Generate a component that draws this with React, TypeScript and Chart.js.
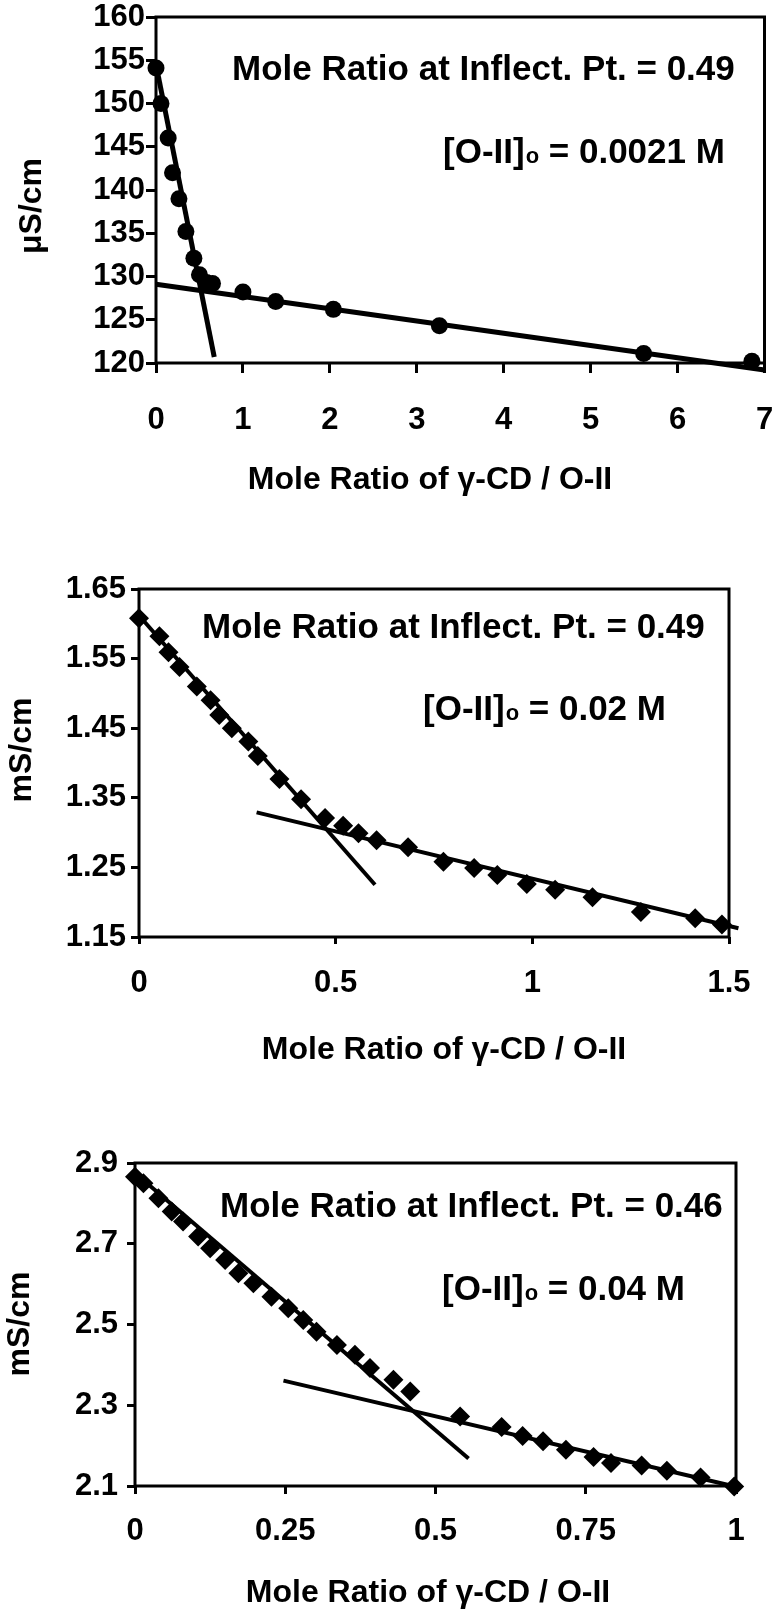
import React, { useEffect, useRef } from "react";
import { Chart, registerables } from "chart.js";

Chart.register(...registerables);

const FONT = "'Liberation Sans', Arial, Helvetica, sans-serif";
const W = 773;

// ---------- Panel 1 data (µS/cm, [O-II]o = 0.0021 M) ----------
const P1_X = [0, 0.057, 0.14, 0.19, 0.264, 0.344, 0.436, 0.5, 0.58, 0.65, 1.0, 1.377, 2.04, 3.26, 5.61, 6.855];
const P1_Y = [154.1, 150, 146, 142, 139, 135.2, 132.1, 130.2, 129.3, 129.2, 128.2, 127.1, 126.2, 124.3, 121.1, 120.2];
const P1_STEEP_X = [0, 0.67];
const P1_STEEP_Y = [154.5, 120.7];
const P1_FLAT_X = [0, 7];
const P1_FLAT_Y = [129.1, 119.2];
const P1_X_TICKS = [0, 1, 2, 3, 4, 5, 6, 7];
const P1_Y_TICKS = [120, 125, 130, 135, 140, 145, 150, 155, 160];
const P1_INFLECT = "Mole Ratio at Inflect. Pt. = 0.49";
const P1_CONC = "0.0021 M";
const P1_Y_TITLE = "μS/cm";

// ---------- Panel 2 data (mS/cm, [O-II]o = 0.02 M) ----------
const P2_X = [0, 0.052, 0.075, 0.103, 0.147, 0.182, 0.204, 0.236, 0.278, 0.302, 0.357, 0.412, 0.473, 0.519, 0.558, 0.604, 0.684, 0.774, 0.852, 0.911, 0.986, 1.058, 1.153, 1.276, 1.414, 1.482];
const P2_Y = [1.608, 1.582, 1.559, 1.538, 1.51, 1.49, 1.469, 1.45, 1.431, 1.41, 1.377, 1.348, 1.321, 1.31, 1.299, 1.289, 1.279, 1.258, 1.249, 1.239, 1.226, 1.218, 1.207, 1.186, 1.177, 1.168];
const P2_STEEP_X = [0, 0.6];
const P2_STEEP_Y = [1.612, 1.225];
const P2_FLAT_X = [0.299, 1.524];
const P2_FLAT_Y = [1.329, 1.1625];
const P2_X_TICKS = [0, 0.5, 1, 1.5];
const P2_Y_TICKS = [1.15, 1.25, 1.35, 1.45, 1.55, 1.65];
const P2_INFLECT = "Mole Ratio at Inflect. Pt. = 0.49";
const P2_CONC = "0.02 M";
const P2_Y_TITLE = "mS/cm";

// ---------- Panel 3 data (mS/cm, [O-II]o = 0.04 M) ----------
const P3_X = [0, 0.014, 0.039, 0.061, 0.08, 0.105, 0.125, 0.15, 0.172, 0.197, 0.227, 0.255, 0.28, 0.302, 0.336, 0.366, 0.391, 0.43, 0.458, 0.541, 0.61, 0.645, 0.679, 0.717, 0.763, 0.792, 0.843, 0.885, 0.941, 0.997];
const P3_Y = [2.866, 2.85, 2.813, 2.78, 2.755, 2.718, 2.689, 2.66, 2.627, 2.602, 2.569, 2.54, 2.511, 2.482, 2.449, 2.425, 2.392, 2.363, 2.334, 2.272, 2.246, 2.224, 2.211, 2.19, 2.172, 2.157, 2.151, 2.138, 2.121, 2.099];
const P3_STEEP_X = [0, 0.555];
const P3_STEEP_Y = [2.875, 2.168];
const P3_FLAT_X = [0.247, 1.0];
const P3_FLAT_Y = [2.361, 2.098];
const P3_X_TICKS = [0, 0.25, 0.5, 0.75, 1];
const P3_Y_TICKS = [2.1, 2.3, 2.5, 2.7, 2.9];
const P3_INFLECT = "Mole Ratio at Inflect. Pt. = 0.46";
const P3_CONC = "0.04 M";
const P3_Y_TITLE = "mS/cm";

const X_TITLE = "Mole Ratio of γ-CD / O-II";

const toPts = (xs: number[], ys: number[]) => xs.map((x, i) => ({ x, y: ys[i] }));

const decorPlugin = {
  id: "decor",
  beforeDatasetsDraw(chart: any, _args: any, o: any) {
    const { ctx, chartArea: a } = chart;
    ctx.save();
    ctx.strokeStyle = "#000";
    ctx.lineWidth = o.frameWidth;
    ctx.strokeRect(a.left, a.top, a.right - a.left, a.bottom - a.top);
    ctx.restore();
  },
  afterDraw(chart: any, _args: any, o: any) {
    const { ctx } = chart;
    ctx.save();
    ctx.fillStyle = "#000";
    ctx.textBaseline = "alphabetic";
    ctx.textAlign = "left";
    ctx.font = `bold ${o.annSize}px ${FONT}`;
    ctx.fillText(o.inflect, o.ann1[0], o.ann1[1]);
    let cx = o.ann2[0];
    const by = o.ann2[1];
    ctx.font = `bold ${o.annSize}px ${FONT}`;
    ctx.fillText("[O-II]", cx, by);
    cx += ctx.measureText("[O-II]").width + 1;
    ctx.font = `bold ${Math.round(o.annSize * 0.62)}px ${FONT}`;
    ctx.fillText("o", cx, by);
    cx += ctx.measureText("o").width;
    ctx.font = `bold ${o.annSize}px ${FONT}`;
    ctx.fillText(" = " + o.conc, cx, by);
    ctx.font = `bold ${o.titleSize}px ${FONT}`;
    ctx.textAlign = "center";
    ctx.fillText(X_TITLE, o.xTitle[0], o.xTitle[1]);
    ctx.translate(o.yTitle[0], o.yTitle[1]);
    ctx.rotate(-Math.PI / 2);
    ctx.textBaseline = "middle";
    ctx.fillText(o.yTitleText, 0, 0);
    ctx.restore();
  },
};

type Panel = {
  top: number;
  height: number;
  area: { left: number; top: number; right: number; bottom: number };
  xs: number[]; ys: number[];
  steep: [number[], number[]];
  flat: [number[], number[]];
  xTicks: number[]; yTicks: number[];
  yDecimals: number;
  pointStyle: string; pointRadius: number;
  fitWidth: number;
  xTickLen: number; yTickLen: number; xPad: number; yPad: number;
  inflect: string; conc: string; yTitleText: string;
  ann1: [number, number]; ann2: [number, number];
  xTitle: [number, number]; yTitle: [number, number];
};

const PANELS: Panel[] = [
  {
    top: 0, height: 500,
    area: { left: 156, top: 17, right: 766, bottom: 363 },
    xs: P1_X, ys: P1_Y, steep: [P1_STEEP_X, P1_STEEP_Y], flat: [P1_FLAT_X, P1_FLAT_Y],
    xTicks: P1_X_TICKS, yTicks: P1_Y_TICKS, yDecimals: 0,
    pointStyle: "circle", pointRadius: 8.5, fitWidth: 5,
    xTickLen: 10, yTickLen: 10, xPad: 29, yPad: 1,
    inflect: P1_INFLECT, conc: P1_CONC, yTitleText: P1_Y_TITLE,
    ann1: [232, 80], ann2: [443, 163], xTitle: [430, 489], yTitle: [32, 206],
  },
  {
    top: 500, height: 580,
    area: { left: 139, top: 89, right: 729, bottom: 437 },
    xs: P2_X, ys: P2_Y, steep: [P2_STEEP_X, P2_STEEP_Y], flat: [P2_FLAT_X, P2_FLAT_Y],
    xTicks: P2_X_TICKS, yTicks: P2_Y_TICKS, yDecimals: 2,
    pointStyle: "rectRot", pointRadius: 10, fitWidth: 4,
    xTickLen: 7, yTickLen: 8, xPad: 21, yPad: 5,
    inflect: P2_INFLECT, conc: P2_CONC, yTitleText: P2_Y_TITLE,
    ann1: [202, 138], ann2: [423, 220], xTitle: [444, 559], yTitle: [22, 250],
  },
  {
    top: 1080, height: 536,
    area: { left: 135, top: 83, right: 736, bottom: 406 },
    xs: P3_X, ys: P3_Y, steep: [P3_STEEP_X, P3_STEEP_Y], flat: [P3_FLAT_X, P3_FLAT_Y],
    xTicks: P3_X_TICKS, yTicks: P3_Y_TICKS, yDecimals: 1,
    pointStyle: "rectRot", pointRadius: 10, fitWidth: 4,
    xTickLen: 8, yTickLen: 8, xPad: 19, yPad: 9,
    inflect: P3_INFLECT, conc: P3_CONC, yTitleText: P3_Y_TITLE,
    ann1: [220, 137], ann2: [442, 220], xTitle: [428, 522], yTitle: [20, 244],
  },
];

function PanelChart({ p }: { p: Panel }) {
  const ref = useRef<HTMLCanvasElement | null>(null);
  useEffect(() => {
    if (!ref.current) return;
    const tickFont = { family: FONT, size: 31, weight: "bold" as const };
    const xMin = p.xTicks[0], xMax = p.xTicks[p.xTicks.length - 1];
    const yMin = p.yTicks[0], yMax = p.yTicks[p.yTicks.length - 1];
    const chart = new Chart(ref.current, {
      type: "scatter",
      data: {
        datasets: [
          {
            data: toPts(p.steep[0], p.steep[1]),
            showLine: true, borderColor: "#000", borderWidth: p.fitWidth,
            pointRadius: 0, clip: false as any, order: 2,
          },
          {
            data: toPts(p.flat[0], p.flat[1]),
            showLine: true, borderColor: "#000", borderWidth: p.fitWidth,
            pointRadius: 0, clip: false as any, order: 2,
          },
          {
            data: toPts(p.xs, p.ys),
            showLine: false, pointStyle: p.pointStyle as any, pointRadius: p.pointRadius,
            backgroundColor: "#000", borderColor: "#000", borderWidth: 0,
            clip: false as any, order: 1,
          },
        ],
      },
      options: {
        responsive: false,
        animation: false,
        events: [],
        layout: { padding: { left: 0, top: p.area.top, right: W - p.area.right, bottom: 0 } },
        plugins: {
          legend: { display: false },
          tooltip: { enabled: false },
          decor: {
            frameWidth: 3, annSize: 35, titleSize: 32,
            inflect: p.inflect, conc: p.conc, yTitleText: p.yTitleText,
            ann1: p.ann1, ann2: p.ann2, xTitle: p.xTitle, yTitle: p.yTitle,
          },
        } as any,
        scales: {
          x: {
            type: "linear", min: xMin, max: xMax,
            afterBuildTicks: (s: any) => { s.ticks = p.xTicks.map((v) => ({ value: v })); },
            afterFit: (s: any) => { s.height = p.height - p.area.bottom; s.paddingLeft = 0; s.paddingRight = 0; },
            ticks: {
              font: tickFont, color: "#000", padding: p.xPad, maxRotation: 0, minRotation: 0, autoSkip: false,
              callback: (v: any) => String(Number(Number(v).toFixed(2))),
            },
            grid: { display: true, drawOnChartArea: false, drawTicks: true, tickLength: p.xTickLen, color: "#000", lineWidth: 3 },
            border: { display: false },
          },
          y: {
            type: "linear", min: yMin, max: yMax,
            afterBuildTicks: (s: any) => { s.ticks = p.yTicks.map((v) => ({ value: v })); },
            afterFit: (s: any) => { s.width = p.area.left; s.paddingTop = 0; s.paddingBottom = 0; },
            ticks: {
              font: tickFont, color: "#000", padding: p.yPad, autoSkip: false,
              callback: (v: any) => Number(v).toFixed(p.yDecimals),
            },
            grid: { display: true, drawOnChartArea: false, drawTicks: true, tickLength: p.yTickLen, color: "#000", lineWidth: 3 },
            border: { display: false },
          },
        },
      } as any,
      plugins: [decorPlugin],
    });
    return () => chart.destroy();
  }, [p]);
  return (
    <canvas
      ref={ref}
      width={W}
      height={p.height}
      style={{ position: "absolute", left: 0, top: p.top, width: W, height: p.height, display: "block" }}
    />
  );
}

export default function App() {
  return (
    <div style={{ position: "absolute", left: 0, top: 0, width: W, height: 1616, background: "#fff", overflow: "hidden" }}>
      {PANELS.map((p, i) => (
        <PanelChart key={i} p={p} />
      ))}
    </div>
  );
}
